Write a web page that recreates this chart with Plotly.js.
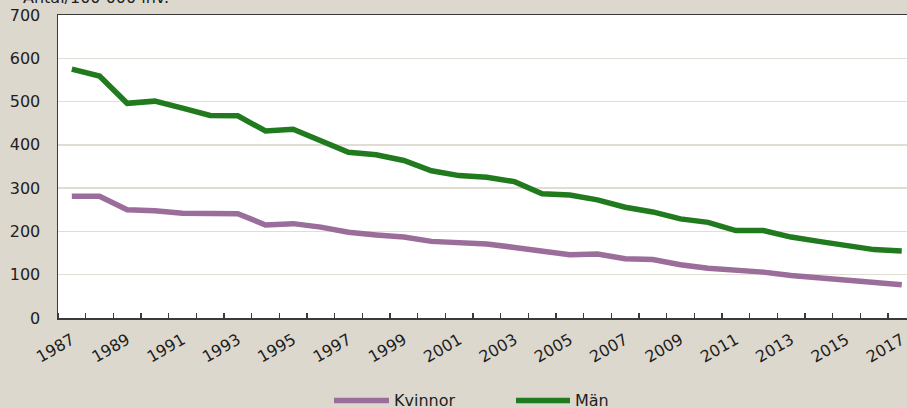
<!DOCTYPE html>
<html>
<head>
<meta charset="utf-8">
<script src="https://cdn.plot.ly/plotly-3.0.1.min.js"></script>
<style>html,body{margin:0;padding:0;background:#DDD8CE;}#chart{width:907px;height:408px;}</style>
</head>
<body>
<div id="chart"></div>
<script>
const years = [1987,1988,1989,1990,1991,1992,1993,1994,1995,1996,1997,1998,1999,2000,2001,2002,2003,2004,2005,2006,2007,2008,2009,2010,2011,2012,2013,2014,2015,2016,2017];
const kvinnor = [281,281,250,248,242,241,241,215,218,210,198,192,187,177,175,171,163,154,146,148,137,135,123,115,111,106,98,92,86,82,77];
const man = [575,559,496,501,485,468,467,432,436,411,383,377,364,340,329,325,315,287,284,273,256,245,229,221,202,202,187,177,169,158,155];
const tickYears = [1987,1989,1991,1993,1995,1997,1999,2001,2003,2005,2007,2009,2011,2013,2015,2017];
const tickLabels = ["1987","1989","1991","1993","1995","1997","1999","2001","2003","2005","2007","2009","2011","2013","2015","2017"];
const seriesNames = ["Kvinnor","Män"];
const colors = ["#9A6D9B","#217A1E"];
const yTitle = "Antal/100 000 inv.";

const font = {family:"DejaVu Sans, sans-serif", size:16, color:"#1e1e1e"};

const traces = [
  {x:years, y:kvinnor, name:seriesNames[0], type:"scatter", mode:"lines", line:{color:colors[0], width:5.5}},
  {x:years, y:man, name:seriesNames[1], type:"scatter", mode:"lines", line:{color:colors[1], width:5.5}}
];

const layout = {
  width:907, height:408,
  margin:{l:58, r:0, t:15, b:90, pad:0},
  paper_bgcolor:"#DDD8CE",
  plot_bgcolor:"#FFFFFF",
  font:font,
  showlegend:false,
  xaxis:{
    range:[1986.5, 2017.19],
    tickvals:tickYears, ticktext:tickLabels,
    tickangle:-30,
    ticks:"",
    ticklabelstandoff:5,
    ticklabeloverflow:"allow",
    showgrid:false, zeroline:false,
    showline:true, linecolor:"#3a3a3a", linewidth:1.5, mirror:true,
    minor:{tick0:1987.5, dtick:1, ticks:"inside", ticklen:5, tickcolor:"#3a3a3a", tickwidth:1.2, showgrid:false},
    tickfont:font,
    fixedrange:true
  },
  yaxis:{
    range:[0,700], dtick:100, tick0:0,
    showgrid:true, gridcolor:"#E2DDD4", gridwidth:1.5,
    zeroline:false,
    showline:true, linecolor:"#3a3a3a", linewidth:1.5, mirror:true,
    ticks:"", ticklabelstandoff:13,
    tickfont:font,
    fixedrange:true
  },
  annotations:[
    {xref:"paper", yref:"paper", x:(21-58)/849, y:1.02, xanchor:"left", yanchor:"bottom", text:yTitle, showarrow:false, font:font},
    {xref:"paper", yref:"paper", x:(392-58)/849, y:-0.272, xanchor:"left", yanchor:"middle", text:seriesNames[0], showarrow:false, font:font},
    {xref:"paper", yref:"paper", x:(573-58)/849, y:-0.272, xanchor:"left", yanchor:"middle", text:seriesNames[1], showarrow:false, font:font}
  ],
  shapes:[
    {type:"line", xref:"paper", yref:"paper", x0:(334-58)/849, x1:(389-58)/849, y0:-0.272, y1:-0.272, line:{color:colors[0], width:5.5}},
    {type:"line", xref:"paper", yref:"paper", x0:(516-58)/849, x1:(570-58)/849, y0:-0.272, y1:-0.272, line:{color:colors[1], width:5.5}}
  ]
};

Plotly.newPlot("chart", traces, layout, {displayModeBar:false, staticPlot:true});
</script>
</body>
</html>
